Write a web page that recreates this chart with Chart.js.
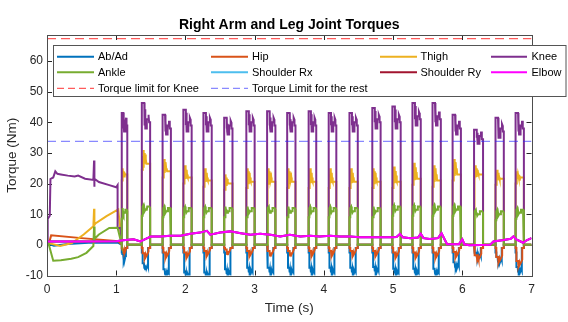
<!DOCTYPE html>
<html>
<head>
<meta charset="utf-8">
<script src="https://cdn.jsdelivr.net/npm/chart.js@4.4.1/dist/chart.umd.min.js"></script>
<style>
  html, body { margin: 0; padding: 0; background: #fff; }
  canvas { display: block; }
</style>
</head>
<body>
<canvas id="torques" width="568" height="322"></canvas>
<script>
// ---- axis ticks ----
const timeTicks = [0, 1, 2, 3, 4, 5, 6, 7];
const torqueTicks = [-10, 0, 10, 20, 30, 40, 50, 60];

// ---- torque limits (Nm) ----
const kneeLimit = 67.3;
const restLimit = 33.8;

// ---- start-up phase, [time, torque] pairs ----
const abadStart = [[0, 0], [0.03, 0.3], [0.1, -0.3], [0.3, 0.3], [0.6, 0.7], [1.02, 0.8]];
const hipStart = [[0, 0], [0.03, 0.6], [0.06, 3.1], [0.5, 2.2], [1.03, 1.2]];
const thighStart = [[0, 0], [0.02, 0.6], [0.19, -0.4], [0.36, 0.6], [0.53, 3.4], [0.67, 6.1],
    [0.68, 11.8], [0.685, 6.5], [0.7, 7], [0.86, 9.4], [1.03, 11.6]];
const kneeStart = [[0, 0], [0.01, 8.5], [0.04, 9.5], [0.05, 21.5], [0.09, 22], [0.12, 24],
    [0.15, 23.2], [0.2, 23], [0.3, 22.6], [0.4, 22.3], [0.45, 22.6], [0.55, 21.6], [0.67, 21.2],
    [0.68, 27.5], [0.68, 19], [0.69, 21.6], [0.75, 20.5], [0.9, 19.5], [1.0, 18.8], [1.02, 19.5],
    [1.02, 5.5], [1.06, 5.5]];
const ankleStart = [[0, 0], [0.02, 0.6], [0.09, -5.2], [0.2, -5], [0.35, -4.5], [0.45, -4],
    [0.57, -2.6], [0.67, -0.4], [0.68, 6], [0.685, 0.6], [0.69, 2], [0.75, 3.4], [0.9, 5.5], [1.02, 5.6]];

// ---- gait steps after t = 1 s: one entry per step ----
const stepOn = [1.08, 1.37, 1.67, 1.97, 2.26, 2.56, 2.88, 3.18, 3.47, 3.78,
    4.07, 4.37, 4.70, 4.99, 5.28, 5.57, 5.86, 6.17, 6.48, 6.77];
const stepOff = [1.16, 1.49, 1.79, 2.09, 2.38, 2.68, 3.00, 3.30, 3.59, 3.89,
    4.18, 4.49, 4.82, 5.11, 5.40, 5.69, 5.98, 6.30, 6.60, 6.89];
const kneePeak = [43, 46.3, 42.5, 44.1, 43, 41.5, 43.6, 43.6, 43, 43.6,
    43, 43, 44.7, 45.2, 46.3, 46.3, 42.5, 37.6, 41.5, 43];
const kneeDip = [37, 38, 36, 37, 37, 36, 37, 37, 37, 37,
    37, 37, 38, 38, 39, 39, 36, 33, 35, 36];
const kneeHold = [40, 41, 39, 40, 40, 39, 40, 40, 40, 40,
    40, 40, 41, 41, 42, 42, 39, 35.5, 38, 39];
const thighTop = [25, 31, 28, 26, 25, 23, 25, 25, 25, 25,
    25, 25, 25, 25.6, 26.8, 26, 28, 26, 24.5, 24];
const thighBase = [21, 24.5, 22, 20, 19, 18, 18.6, 18.6, 18.6, 18.6,
    18.6, 18.6, 18.6, 18.6, 19.6, 19, 21, 21, 19.6, 20];
const ankleTop = [11.5, 12.5, 12, 12, 12, 12, 12, 12, 12, 12,
    12, 12, 12, 12.5, 12.5, 12.5, 12.5, 11, 11, 11.5];
const hipLow = [-3, -4.2, -4, -4, -3.5, -3, -3.5, -3.5, -3.5, -3.5,
    -3.5, -3.5, -3.5, -4, -4, -4, -3.8, -4.9, -5.5, -6.8];
const abadLow = [-5, -8, -10, -11, -11, -10, -9.5, -9.5, -9.5, -9.5,
    -9.5, -9.5, -9.2, -9.8, -9.8, -9.8, -7.7, -4.6, -5.9, -9.2];

// ---- elbow (smooth), [time, torque] ----
const elbowTrace = [[0, 1.1], [0.5, 1.1], [1.0, 1.2], [1.1, 1.5], [1.25, 1.8], [1.35, 1.1], [1.45, 2.2],
    [1.5, 2.7], [1.64, 2.7], [1.78, 3], [1.93, 3], [2.07, 3.6], [2.21, 4.0], [2.31, 4.6], [2.36, 3.3],
    [2.5, 4.0], [2.65, 4.4], [2.8, 3.8], [2.94, 3.3], [3.08, 3.6], [3.23, 3.3], [3.37, 2.7], [3.51, 3.3],
    [3.66, 2.7], [3.8, 3.0], [3.94, 2.7], [4.09, 3.0], [4.23, 2.7], [4.38, 2.7], [4.52, 2.5], [4.67, 2.5],
    [4.82, 2.5], [4.96, 2.5], [5.05, 2.6], [5.1, 3.6], [5.14, 2.5], [5.25, 2.2], [5.36, 2.4], [5.4, 3.6],
    [5.44, 2.2], [5.53, 1.9], [5.65, 2.2], [5.7, 3.8], [5.74, 2.0], [5.78, 0.2], [5.95, 0.2], [6.0, 1.8],
    [6.03, 0.2], [6.1, -0.1], [6.4, 0], [6.45, 1.1], [6.6, 1.6], [6.7, 2.0], [6.74, 2.8], [6.78, 1.8],
    [6.88, 0.7], [6.93, 1.5], [7.0, 2.2]];
// shoulders stay small, under the elbow trace
const shoulderRxTrace = elbowTrace;
const shoulderRyTrace = elbowTrace;

const FONT = "'Liberation Sans', Arial, Helvetica, sans-serif";
const INK = "#262626";

/**
 * Step shapes: each returns [fraction of step, torque] pairs for step k
 */
const shapes = {
    abad: (k) => {
        const l = abadLow[k];
        return [[0, 0], [0, -2.5], [0.1, -2.5], [0.1, l + 2], [0.25, l + 2], [0.3, l + 0.5],
            [0.35, l + 1.5], [0.4, l], [0.5, l + 1.2], [0.55, l + 0.3], [0.7, l + 1.5],
            [0.75, l + 1], [0.75, -1], [1, -1], [1, 0]];
    },
    hip: (k) => {
        const l = hipLow[k];
        return [[0, 0], [0, -1], [0.1, -1], [0.1, l + 1.5], [0.3, l + 1.5], [0.35, l],
            [0.45, l + 1], [0.5, l + 0.3], [0.65, l + 1], [0.8, l + 2], [0.8, -1], [1, -1], [1, 0]];
    },
    thigh: (k) => {
        const t = thighTop[k], b = thighBase[k];
        return [[0, 0], [0, b], [0.1, b], [0.12, t - 2], [0.16, b + 1], [0.2, t], [0.25, b + 1.5],
            [0.3, t - 1], [0.35, b + 2], [0.4, t - 1.5], [0.45, b + 2.5], [0.5, t - 3],
            [0.55, b + 2], [0.62, b + 2], [1, b + 2], [1, 0]];
    },
    knee: (k) => {
        const p = kneePeak[k], d = kneeDip[k], h = kneeHold[k];
        return [[0, 0], [0, p], [0.3, p], [0.3, d + 2], [0.33, p - 1], [0.36, d + 1],
            [0.4, p - 2], [0.42, d], [0.6, d], [0.6, h], [0.75, h], [0.78, h + 1.5],
            [0.85, h + 1], [0.88, h - 1], [1, h - 1], [1, 0]];
    },
    ankle: (k) => {
        const a = ankleTop[k];
        return [[0, 0], [0, a - 3], [0.1, a - 3], [0.1, a], [0.2, a + 0.5], [0.25, a - 1],
            [0.3, a - 0.5], [0.35, a - 1.5], [0.45, a - 1], [0.6, a - 1], [0.65, a],
            [0.9, a], [1, a - 0.5], [1, 0]];
    },
};

function toXY(pairs) {
    return pairs.map(([x, y]) => ({ x, y }));
}

// start-up trace + every gait step + tail to 7 s
function buildTrace(start, shape) {
    const pts = toXY(start);
    stepOn.forEach((s, k) => {
        const w = stepOff[k] - s;
        shape(k).forEach(([f, y]) => pts.push({ x: s + f * w, y }));
    });
    pts.push({ x: 7, y: 0 });
    return pts;
}

const series = [
    { label: "Ab/Ad", color: "#0072BD", data: buildTrace(abadStart, shapes.abad) },
    { label: "Hip", color: "#D95319", data: buildTrace(hipStart, shapes.hip) },
    { label: "Thigh", color: "#EDB120", data: buildTrace(thighStart, shapes.thigh) },
    { label: "Knee", color: "#7E2F8E", data: buildTrace(kneeStart, shapes.knee) },
    { label: "Ankle", color: "#77AC30", data: buildTrace(ankleStart, shapes.ankle) },
    { label: "Shoulder Rx", color: "#4DBEEE", data: toXY(shoulderRxTrace) },
    { label: "Shoulder Ry", color: "#A2142F", data: toXY(shoulderRyTrace) },
    { label: "Elbow", color: "#FF00FF", data: toXY(elbowTrace) },
];

const limits = [
    { label: "Torque limit for Knee", color: "rgba(255,50,50,0.8)", value: kneeLimit },
    { label: "Torque Limit for the rest", color: "rgba(40,40,255,0.55)", value: restLimit },
];

// later MATLAB lines sit on top -> lower order is drawn last
const datasets = series.map((s, i) => ({
    label: s.label,
    data: s.data,
    borderColor: s.color,
    borderWidth: 2,
    pointRadius: 0,
    tension: 0,
    order: series.length + 2 - i,
    clip: 0,
}));
limits.forEach((l, i) => {
    datasets.push({
        label: l.label,
        data: [{ x: 0, y: l.value }, { x: 7, y: l.value }],
        borderColor: l.color,
        borderWidth: 1.3,
        borderDash: [9, 5],
        pointRadius: 0,
        order: 1 - i,
        clip: 0,
    });
});

/**
 * ==============================
 * FRAME, LABELS AND LEGEND
 * ==============================
 */
const matlabAxes = {
    id: "matlabAxes",
    beforeDatasetsDraw(chart) {
        const { ctx, chartArea: a, scales } = chart;
        ctx.save();
        ctx.strokeStyle = INK;
        ctx.lineWidth = 1;
        ctx.beginPath();
        timeTicks.forEach((t) => {
            const x = Math.round(scales.x.getPixelForValue(t)) + 0.5;
            ctx.moveTo(x, a.bottom); ctx.lineTo(x, a.bottom - 5);
            ctx.moveTo(x, a.top); ctx.lineTo(x, a.top + 5);
        });
        torqueTicks.forEach((v) => {
            const y = Math.round(scales.y.getPixelForValue(v)) + 0.5;
            ctx.moveTo(a.left, y); ctx.lineTo(a.left + 5, y);
            ctx.moveTo(a.right, y); ctx.lineTo(a.right - 5, y);
        });
        ctx.stroke();
        ctx.restore();
    },
    afterDraw(chart) {
        const { ctx, chartArea: a } = chart;
        ctx.save();
        // box
        ctx.strokeStyle = "#4d4d4d";
        ctx.lineWidth = 1;
        ctx.strokeRect(Math.round(a.left) + 0.5, Math.round(a.top) + 0.5,
            Math.round(a.right - a.left), Math.round(a.bottom - a.top));

        // title and axis labels
        const cx = (a.left + a.right) / 2;
        ctx.fillStyle = "#000";
        ctx.textAlign = "center";
        ctx.textBaseline = "middle";
        ctx.font = `bold 14px ${FONT}`;
        ctx.fillText("Right Arm and Leg Joint Torques", cx, 25);
        ctx.fillStyle = INK;
        ctx.font = `13.5px ${FONT}`;
        ctx.fillText("Time (s)", cx, 308);
        ctx.translate(12.5, (a.top + a.bottom) / 2);
        ctx.rotate(-Math.PI / 2);
        ctx.fillText("Torque (Nm)", 0, 0);
        ctx.restore();

        // legend
        ctx.save();
        ctx.fillStyle = "#fff";
        ctx.fillRect(53.5, 45.5, 512.5, 51);
        ctx.strokeStyle = "#555";
        ctx.lineWidth = 1;
        ctx.strokeRect(53.5, 45.5, 512.5, 51);
        const cols = [[57, 94, 98], [211, 248, 252], [380, 417, 420.5], [491, 527, 531.5]];
        const rows = [56.7, 72.3, 88.3];
        const entries = series.map((s) => ({ label: s.label, color: s.color, dash: [] }))
            .concat(limits.map((l) => ({ label: l.label, color: l.color, dash: [7, 4] })));
        ctx.font = `11px ${FONT}`;
        ctx.textAlign = "left";
        ctx.textBaseline = "middle";
        entries.forEach((e, i) => {
            const [x0, x1, tx] = cols[i % 4];
            const y = rows[Math.floor(i / 4)];
            ctx.strokeStyle = e.color;
            ctx.lineWidth = e.dash.length ? 1.3 : 2;
            ctx.setLineDash(e.dash);
            ctx.beginPath();
            ctx.moveTo(x0, y); ctx.lineTo(x1, y);
            ctx.stroke();
            ctx.setLineDash([]);
            ctx.fillStyle = "#000";
            ctx.fillText(e.label, tx, y + 0.5);
        });
        ctx.restore();
    },
};

new Chart(document.getElementById("torques"), {
    type: "line",
    data: { datasets },
    options: {
        responsive: false,
        animation: false,
        parsing: true,
        layout: { padding: { top: 35, right: 36.5, bottom: 0, left: 0 } },
        plugins: {
            legend: { display: false },
            tooltip: { enabled: false },
            title: { display: false },
        },
        scales: {
            x: {
                type: "linear",
                min: 0,
                max: 7,
                afterBuildTicks: (s) => { s.ticks = timeTicks.map((v) => ({ value: v })); },
                afterFit: (s) => { s.height = 46.5; },
                ticks: { color: INK, font: { family: FONT, size: 12 }, padding: 7, maxRotation: 0 },
                grid: { display: false, drawTicks: false },
                border: { display: false },
            },
            y: {
                type: "linear",
                min: -10,
                max: 68.5,
                afterBuildTicks: (s) => { s.ticks = torqueTicks.map((v) => ({ value: v })); },
                afterFit: (s) => { s.width = 47; },
                ticks: { color: INK, font: { family: FONT, size: 12 }, padding: 4 },
                grid: { display: false, drawTicks: false },
                border: { display: false },
            },
        },
    },
    plugins: [matlabAxes],
});
</script>
</body>
</html>
